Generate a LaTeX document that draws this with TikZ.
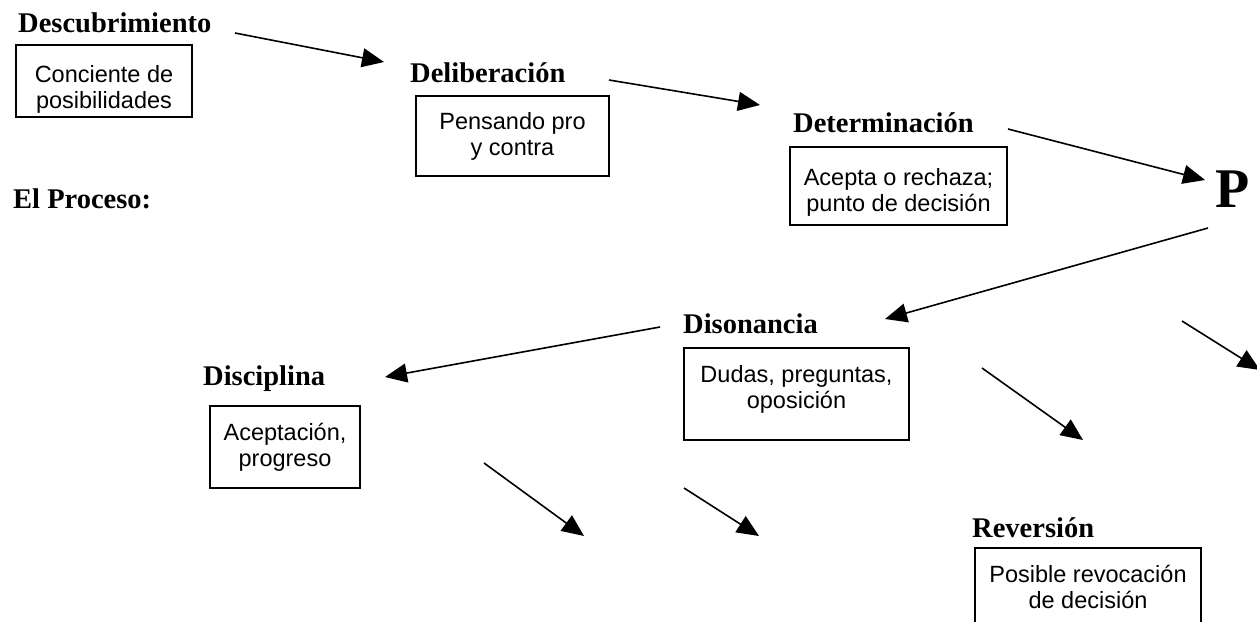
\documentclass[tikz,border=0pt]{standalone}
\usepackage{fontspec}
\setmainfont{Liberation Serif}
\setsansfont{Liberation Sans}
\usetikzlibrary{arrows.meta}

\begin{document}
\begin{tikzpicture}[x=1pt, y=-1pt]
    \tikzstyle{stage} = [anchor=base west, inner sep=0pt, font=\fontsize{28.5}{34}\selectfont\bfseries]
    \tikzstyle{note} = [draw, line width=1.4pt, align=center, inner sep=0pt, font=\sffamily\fontsize{23.5}{26}\selectfont]
    \tikzstyle{flow} = [line width=1.6pt, -{Triangle[length=22pt, width=19pt]}]
    \useasboundingbox (0,0) rectangle (1257,621);

    % stages
    \node[stage] (descubrimiento) at (18,32) {Descubrimiento};
    \node[note, minimum width=176pt, minimum height=72pt] (conciente) at (104,81) {\rule{0pt}{33pt}Conciente de\\posibilidades};
    \node[stage] (deliberacion) at (410,82) {Deliberación};
    \node[note, minimum width=193pt, minimum height=80pt] (pensando) at (512.5,136) {Pensando pro\\y contra};
    \node[stage] (determinacion) at (793,132) {Determinación};
    \node[note, minimum width=217pt, minimum height=78pt] (acepta) at (898.5,186) {\rule{0pt}{29pt}Acepta o rechaza;\\punto de decisión};
    \node[stage, font=\fontsize{56}{60}\selectfont\bfseries] (p) at (1215,207) {P};
    \node[stage] (proceso) at (13,208) {El Proceso:};
    \node[stage] (disonancia) at (683,333) {Disonancia};
    \node[note, minimum width=225pt, minimum height=92pt] (dudas) at (796.5,394) {Dudas, preguntas,\\oposición\rule[-14pt]{0pt}{0pt}};
    \node[stage] (disciplina) at (203,385) {Disciplina};
    \node[note, minimum width=150pt, minimum height=82pt] (aceptacion) at (285,447) {Aceptación,\\progreso};
    \node[stage] (reversion) at (972,537) {Reversión};
    \node[note, minimum width=226pt, minimum height=78pt] (revocacion) at (1088,587) {Posible revocación\\de decisión};

    % arrow ends
    \coordinate (s1) at (235,33);   \coordinate (t1) at (384,62);
    \coordinate (s2) at (609,80);   \coordinate (t2) at (760,105);
    \coordinate (s3) at (1008,129); \coordinate (t3) at (1205,180);
    \coordinate (s4) at (1208,228); \coordinate (t4) at (885,319);
    \coordinate (s5) at (660,327);  \coordinate (t5) at (385,377);
    \coordinate (s6) at (484,463);  \coordinate (t6) at (584,536);
    \coordinate (s7) at (684,488);  \coordinate (t7) at (759,536);
    \coordinate (s8) at (982,368);  \coordinate (t8) at (1083,440);
    \coordinate (s9) at (1182,321); \coordinate (t9) at (1260,370);
    \foreach \i in {1,...,9} {
        \draw[flow] (s\i) -- (t\i);
    }
\end{tikzpicture}
\end{document}
